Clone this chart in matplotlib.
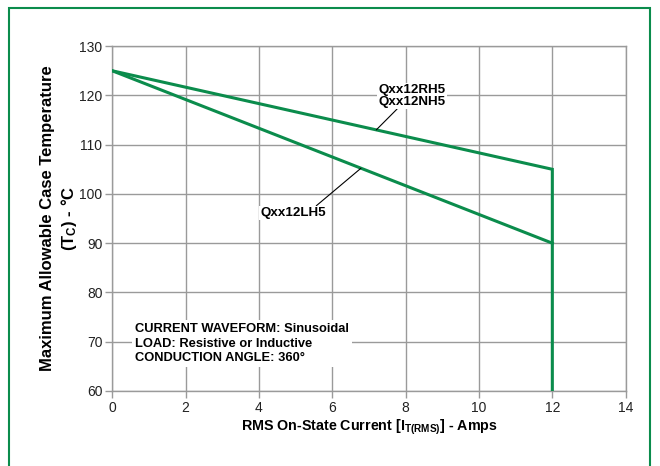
import matplotlib
matplotlib.use("Agg")
from matplotlib import pyplot as plt
from matplotlib.patches import Rectangle

plt.rcParams["font.family"] = ["Liberation Sans", "DejaVu Sans"]
plt.rcParams["mathtext.fontset"] = "custom"
plt.rcParams["mathtext.rm"] = "Liberation Sans:bold"
plt.rcParams["mathtext.default"] = "rm"

VERDE = "#0b8c4c"
CINZA = "#9a9a9a"

# Curvas de derating (corrente RMS x temperatura da caixa)
corrente_rh = [0, 12, 12]
temp_rh = [125, 105, 60]
corrente_lh = [0, 12]
temp_lh = [125, 90]

xticks = [0, 2, 4, 6, 8, 10, 12, 14]
yticks = [60, 70, 80, 90, 100, 110, 120, 130]

rotulo_rh = "Qxx12RH5\nQxx12NH5"
rotulo_lh = "Qxx12LH5"
condicoes = "CURRENT WAVEFORM: Sinusoidal\nLOAD: Resistive or Inductive\nCONDUCTION ANGLE: 360°"

fig = plt.figure(figsize=(6.6, 4.66), dpi=100)
ax = fig.add_axes([0.170, 0.161, 0.778, 0.740])

# Moldura verde em volta da figura
fig.patches.append(Rectangle((0.0136, -0.02), 0.971, 1.003, transform=fig.transFigure,
                             fill=False, edgecolor=VERDE, lw=1.5))

ax.plot(corrente_rh, temp_rh, color=VERDE, lw=2.2, solid_joinstyle="miter", zorder=3)
ax.plot(corrente_lh, temp_lh, color=VERDE, lw=2.2, zorder=3)

ax.set_xlim(0, 14)
ax.set_ylim(60, 130)
ax.set_xticks(xticks)
ax.set_yticks(yticks)
ax.grid(True, color=CINZA, lw=1)
ax.set_axisbelow(True)
for s in ax.spines.values():
    s.set_color(CINZA)
    s.set_linewidth(1)
ax.tick_params(colors=CINZA, labelcolor="#222222", labelsize=10, length=5, width=1, pad=2)

ax.set_xlabel(r"RMS On-State Current [I$_{T(RMS)}$] - Amps", fontsize=10.3,
              fontweight="bold", labelpad=2)
ax.set_ylabel("Maximum Allowable Case Temperature\n(T$_C$) - °C", fontsize=12,
              fontweight="bold", labelpad=0, linespacing=1.25)

caixa = dict(facecolor="white", edgecolor="none", pad=1)
ax.annotate(rotulo_rh, xy=(7.2, 113), xytext=(8.17, 119.9), ha="center", va="center",
            fontsize=9.6, fontweight="bold", linespacing=0.95, bbox=caixa,
            arrowprops=dict(arrowstyle="-", lw=0.8, color="black", shrinkA=0, shrinkB=0,
                            relpos=(0.3, 0.0)), zorder=4)
ax.annotate(rotulo_lh, xy=(6.78, 105.2), xytext=(4.93, 96.1), ha="center", va="center",
            fontsize=9.6, fontweight="bold", bbox=caixa,
            arrowprops=dict(arrowstyle="-", lw=0.8, color="black", shrinkA=0, shrinkB=0,
                            relpos=(0.83, 1.0)), zorder=4)

ax.text(0.63, 69.6, condicoes, ha="left", va="center", fontsize=9.3, fontweight="bold",
        linespacing=1.3, bbox=dict(facecolor="white", edgecolor="none", pad=2), zorder=4)

fig.savefig("out.png", dpi=100)
